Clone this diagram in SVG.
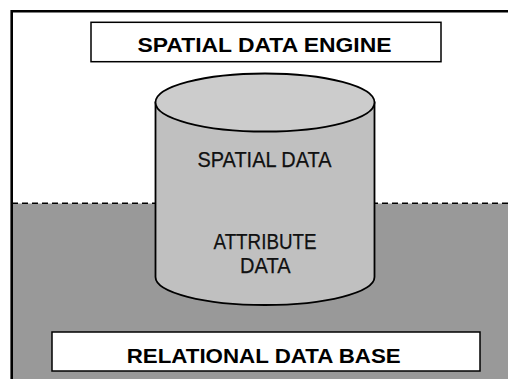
<svg xmlns="http://www.w3.org/2000/svg" width="508" height="379" viewBox="0 0 508 379">
  <style>
    .label { font-family: "Liberation Sans", Arial, sans-serif; fill: #000; text-anchor: middle; }
    .bold { font-weight: bold; }
    .inner { fill: #111; stroke: #111; stroke-width: 0.25; }
    .box { fill: #fff; stroke: #000; stroke-width: 1.5; }
    .drum { stroke: #000; stroke-width: 1.8; }
  </style>
  <rect width="508" height="379" fill="#fff"/>

  <!-- database region below the dashed boundary -->
  <rect x="12" y="203.5" width="496" height="176" fill="#999"/>

  <!-- outer frame (extends past the right and bottom edges) -->
  <path d="M11.7,379 V11.3 H508" fill="none" stroke="#000" stroke-width="2.6"/>

  <g id="connectors">
    <line x1="12" y1="203.3" x2="508" y2="203.3" stroke="#000" stroke-width="1.5" stroke-dasharray="6 4"/>
  </g>

  <g id="spatial-data-engine">
    <rect class="box" x="91" y="22.3" width="350" height="39.4"/>
    <text class="label bold" x="264.5" y="52" font-size="20.5" textLength="254" lengthAdjust="spacingAndGlyphs">SPATIAL DATA ENGINE</text>
  </g>

  <g id="data-store">
    <path class="drum" d="M155.5,102.5 V277 A109.5,28 0 0 0 374.5,277 V102.5 Z" fill="#c0c0c0"/>
    <ellipse class="drum" cx="265" cy="102.5" rx="109.5" ry="29" fill="#ccc"/>
    <text class="label inner" x="264.5" y="166.7" font-size="21.5" textLength="134" lengthAdjust="spacingAndGlyphs">SPATIAL DATA</text>
    <text class="label inner" x="265" y="249" font-size="21.5" textLength="103" lengthAdjust="spacingAndGlyphs">ATTRIBUTE</text>
    <text class="label inner" x="265.3" y="273.3" font-size="21.5" textLength="50.5" lengthAdjust="spacingAndGlyphs">DATA</text>
  </g>

  <g id="relational-data-base">
    <rect class="box" x="52" y="332" width="428" height="39"/>
    <text class="label bold" x="263.7" y="362.7" font-size="21" textLength="274" lengthAdjust="spacingAndGlyphs">RELATIONAL DATA BASE</text>
  </g>
</svg>
